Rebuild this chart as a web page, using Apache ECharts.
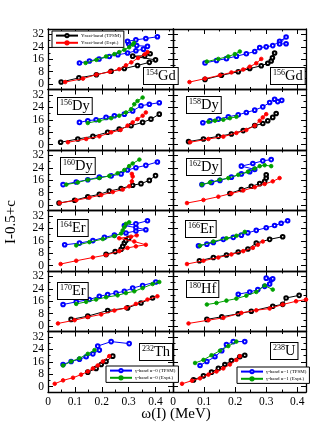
<!DOCTYPE html>
<html><head><meta charset="utf-8">
<script src="https://cdn.jsdelivr.net/npm/echarts@6/dist/echarts.min.js"></script>
<style>html,body{margin:0;padding:0;background:#fff}#c{width:311px;height:440px}</style>
</head><body><div id="c"></div>
<script>
const FONT = '"Liberation Serif","DejaVu Serif",serif';
// ---- data: [omega (MeV), I-0.5+c] ----
const gd154_yTh = [[0.049,1.3],[0.115,4],[0.18,6],[0.235,8.3],[0.284,10],[0.333,12],[0.377,14],[0.40,15.6],[0.315,18],[0.36,18.2],[0.38,19.5]];
const gd154_yEx = [[0.064,1.3],[0.13,3.5],[0.18,6.1],[0.23,7.9],[0.265,9.6],[0.29,12.1],[0.31,14],[0.335,16.8],[0.36,19.2],[0.37,20.6]];
const gd154_gTh = [[0.117,13.6],[0.154,14.9],[0.19,16.2],[0.228,17.8],[0.26,18.9],[0.296,20],[0.327,21.5],[0.355,22.5],[0.37,24.3],[0.33,24.8],[0.30,26],[0.296,27.6],[0.327,28.5],[0.364,29.4],[0.407,30.5]];
const gd154_gEx = [[0.14,13.6],[0.18,15.6],[0.216,17.8],[0.247,19.3],[0.265,20.6],[0.284,22.1],[0.302,23.7],[0.315,25.4],[0.32,26.5]];

const gd156_yTh = [[0.103,3],[0.156,5.7],[0.21,7.9],[0.247,10],[0.284,11.8],[0.305,13.4],[0.316,14.9],[0.32,17],[0.327,20]];
const gd156_yEx = [[0.053,1.3],[0.103,3.5],[0.151,5.7],[0.188,7.5],[0.226,9.4],[0.247,11.2],[0.268,13.4],[0.284,16.2]];
const gd156_gTh = [[0.103,13.6],[0.14,15.2],[0.172,16.4],[0.204,18],[0.236,19.5],[0.263,21],[0.279,23.5],[0.3,24],[0.321,24.8],[0.343,27.5],[0.364,30.3],[0.343,25.8],[0.364,26]];
const gd156_gEx = [[0.109,14.5],[0.146,16.2],[0.178,17.8],[0.199,19.3],[0.215,21]];

const dy156_yTh = [[0.047,1.5],[0.111,3.6],[0.167,5.3],[0.222,7.9],[0.265,10],[0.309,12.2],[0.352,14.3],[0.383,16.4],[0.414,19.6]];
const dy156_yEx = [[0.074,1.5],[0.142,3.6],[0.191,5.3],[0.235,7.9],[0.27,9.4],[0.296,12.2],[0.315,14.3],[0.333,16.4],[0.352,18.6],[0.364,20.7]];
const dy156_gTh = [[0.117,14.3],[0.148,15.4],[0.179,16],[0.216,17.5],[0.247,18.6],[0.284,19.6],[0.315,21.7],[0.346,25],[0.377,26],[0.414,27]];
const dy156_gEx = [[0.148,13.9],[0.191,15.4],[0.235,17],[0.265,18.6],[0.29,20.7],[0.309,22.8],[0.321,26],[0.333,28.1],[0.352,30.3]];

const dy158_yTh = [[0.05,1.9],[0.098,3.6],[0.146,5.3],[0.188,6.8],[0.226,9],[0.263,12.2],[0.289,13.6],[0.305,15.4],[0.321,17.5],[0.332,20]];
const dy158_yEx = [[0.055,1.5],[0.114,3.6],[0.162,5.1],[0.204,7.5],[0.236,9.4],[0.263,12.2],[0.279,15.4],[0.289,17.5],[0.3,19.6]];
const dy158_gTh = [[0.096,14.1],[0.119,15.4],[0.146,16.4],[0.178,17.9],[0.21,19.2],[0.236,20.7],[0.263,22.2],[0.289,24.3],[0.311,27.1],[0.327,29.2],[0.337,27.7],[0.35,28.5]];
const dy158_gEx = [[0.114,14.7],[0.135,15.4],[0.162,16],[0.183,17],[0.204,17.9]];

const dy160_yTh = [[0.041,1.3],[0.099,3.1],[0.148,5.4],[0.191,6.9],[0.228,9],[0.272,10.7],[0.315,12.8],[0.346,13.8],[0.377,15.9],[0.40,19]];
const dy160_yEx = [[0.043,1.3],[0.105,3.1],[0.154,4.8],[0.198,6.5],[0.241,8.4],[0.278,10],[0.302,12.1],[0.312,15.3],[0.315,18.4],[0.312,20.1]];
const dy160_gTh = [[0.056,13.2],[0.105,14.9],[0.148,16.3],[0.191,18],[0.235,18.8],[0.272,20.1],[0.296,22.6],[0.327,24.1],[0.364,25.6],[0.407,27.8]];
const dy160_gEx = [[0.068,13.2],[0.111,14.6],[0.148,16.3],[0.191,17.4],[0.228,18.8],[0.259,20.5],[0.284,22.6],[0.302,25.1],[0.315,26.8],[0.34,29.3]];

const dy162_yTh = [[0.183,7.5],[0.22,10],[0.252,12.1],[0.279,13.8],[0.295,15.3],[0.3,17.4],[0.3,19.5]];
const dy162_yEx = [[0.045,1.3],[0.098,3.3],[0.146,5.4],[0.188,7.5],[0.226,9.4],[0.263,11.5],[0.295,13.6],[0.321,15.3],[0.343,17.4]];
const dy162_gTh = [[0.093,13.2],[0.124,14.6],[0.151,15.9],[0.188,18],[0.22,20.1],[0.247,21.5],[0.263,23],[0.22,25.1],[0.257,26.8],[0.289,28.5],[0.316,29.3]];
const dy162_gEx = [[0.093,13.2],[0.119,14.6],[0.151,16.3],[0.178,17.4],[0.21,19.5],[0.241,21.5],[0.263,23.6],[0.279,25.1],[0.295,25.7],[0.316,25.1]];

const er164_yTh = [[0.216,7.2],[0.25,9],[0.272,10.5],[0.278,12.4],[0.284,14.5],[0.29,16.1],[0.3,17.5]];
const er164_yEx = [[0.047,1],[0.105,3.1],[0.167,5.2],[0.216,6.8],[0.265,9.3],[0.296,11.4],[0.327,12.4],[0.364,13.4],[0.321,15.5],[0.265,17.6],[0.309,18.6],[0.33,19.5]];
const er164_gTh = [[0.062,13.4],[0.117,14.5],[0.167,16.1],[0.21,18.2],[0.247,19.6],[0.29,21],[0.327,22.3],[0.364,23.1],[0.327,24.5],[0.284,25.8],[0.327,26.9],[0.37,28.9]];
const er164_gEx = [[0.105,13],[0.154,15.1],[0.204,17.1],[0.247,19],[0.272,20.7],[0.278,22.7],[0.284,24.8],[0.29,26.9],[0.302,27.9]];

const er166_yTh = [[0.085,3.1],[0.13,5.2],[0.172,6.8],[0.21,8.7],[0.241,10.7],[0.268,14.5],[0.311,16.9],[0.353,18.6]];
const er166_yEx = [[0.045,1],[0.098,3.1],[0.146,5.2],[0.188,7.2],[0.226,9.3],[0.257,11.4],[0.273,13.4],[0.289,15.5]];
const er166_gTh = [[0.082,12.8],[0.109,13.8],[0.13,14.9],[0.162,16.9],[0.194,18.2],[0.22,19.6],[0.241,21.1],[0.268,22.7],[0.3,24.4],[0.327,25.8],[0.348,27.3],[0.369,28.9]];
const er166_gEx = [[0.087,12.8],[0.13,15.5],[0.172,17.6],[0.204,19.2],[0.231,21.7]];

const er170_yTh = [[0.086,4.3],[0.148,6.4],[0.222,10],[0.296,11.7],[0.346,14.9],[0.389,18.1]];
const er170_yEx = [[0.037,1.7],[0.099,3.8],[0.148,5.8],[0.198,7.5],[0.247,10],[0.29,11.7],[0.327,14.3],[0.37,17.1],[0.407,19.2]];
const er170_gTh = [[0.056,13.9],[0.105,15.6],[0.154,17.1],[0.191,19.2],[0.222,20.3],[0.253,21.3],[0.284,22.4],[0.315,24.5],[0.352,26.2],[0.401,28.4]];
const er170_gEx = [[0.105,14.3],[0.142,15.6],[0.179,17.1],[0.216,18.6],[0.259,19.8],[0.29,21.3],[0.321,22.4],[0.352,24.5],[0.389,27.1],[0.414,28.4]];

const hf180_yTh = [[0.109,4.3],[0.157,6],[0.21,7.9],[0.252,9.6],[0.321,12.8],[0.353,14],[0.364,18.1],[0.406,19.8]];
const hf180_yEx = [[0.05,1.7],[0.114,3.8],[0.162,5.3],[0.22,8.5],[0.268,10.2],[0.311,11.3],[0.353,13.9],[0.396,16],[0.428,17.1]];
const hf180_gTh = [[0.21,20.5],[0.247,22],[0.273,23.5],[0.295,25.6],[0.311,27.1],[0.316,29.9],[0.3,30.9],[0.321,30.5]];
const hf180_gEx = [[0.109,13.9],[0.14,14.9],[0.172,16.4],[0.204,17.7],[0.236,19.6],[0.268,22],[0.295,26.2],[0.321,23.5]];

const th232_yTh = [[0.148,9.3],[0.179,11.7],[0.198,14.2],[0.216,16.2],[0.241,19.6]];
const th232_yEx = [[0.025,1.8],[0.056,4],[0.093,5.7],[0.123,7.7],[0.148,9.7],[0.167,11.7],[0.185,13.6],[0.204,16.2],[0.228,19.6]];
const th232_gTh = [[0.056,14.2],[0.086,16.2],[0.117,17.6],[0.142,19.2],[0.167,21.1],[0.191,23.5],[0.185,26.1],[0.235,29],[0.302,27.7]];
const th232_gEx = [[0.056,13.6],[0.086,16.2],[0.117,18.2],[0.148,21.1],[0.173,23.5]];

const u238_yTh = [[0.066,4.3],[0.098,6.9],[0.124,9.3],[0.146,11.7],[0.167,14.2],[0.188,16.8],[0.215,19.2],[0.231,20.2]];
const u238_yEx = [[0.029,1.8],[0.061,3.8],[0.087,5.3],[0.114,7.7],[0.14,9.7],[0.162,11.7],[0.183,14.2],[0.204,17.2],[0.215,19.6]];
const u238_gTh = [[0.087,13.6],[0.109,16.2],[0.135,19.2],[0.157,23.1],[0.172,27.1],[0.194,29],[0.231,29]];
const u238_gEx = [[0.071,15.2],[0.098,17.2],[0.124,20.2],[0.151,23.1],[0.178,26.1],[0.204,29]];

const xTickLabels = [0, 0.1, 0.2, 0.3, 0.4];
const yTickLabels = [0, 8, 16, 24, 32];
const xMinorVals = [0.05, 0.15, 0.25, 0.35, 0.45];
const yMinorVals = [4, 12, 20, 28];

const panels = [
  {mass:'154', el:'Gd', d:[gd154_yTh, gd154_yEx, gd154_gTh, gd154_gEx], lab:[143,67]},
  {mass:'156', el:'Gd', d:[gd156_yTh, gd156_yEx, gd156_gTh, gd156_gEx], lab:[270,67]},
  {mass:'156', el:'Dy', d:[dy156_yTh, dy156_yEx, dy156_gTh, dy156_gEx], lab:[57,97]},
  {mass:'158', el:'Dy', d:[dy158_yTh, dy158_yEx, dy158_gTh, dy158_gEx], lab:[186,96]},
  {mass:'160', el:'Dy', d:[dy160_yTh, dy160_yEx, dy160_gTh, dy160_gEx], lab:[60,157]},
  {mass:'162', el:'Dy', d:[dy162_yTh, dy162_yEx, dy162_gTh, dy162_gEx], lab:[186,158]},
  {mass:'164', el:'Er', d:[er164_yTh, er164_yEx, er164_gTh, er164_gEx], lab:[57,219]},
  {mass:'166', el:'Er', d:[er166_yTh, er166_yEx, er166_gTh, er166_gEx], lab:[185,220]},
  {mass:'170', el:'Er', d:[er170_yTh, er170_yEx, er170_gTh, er170_gEx], lab:[57,282]},
  {mass:'180', el:'Hf', d:[hf180_yTh, hf180_yEx, hf180_gTh, hf180_gEx], lab:[186,280]},
  {mass:'232', el:'Th', d:[th232_yTh, th232_yEx, th232_gTh, th232_gEx], lab:[139,343]},
  {mass:'238', el:'U',  d:[u238_yTh, u238_yEx, u238_gTh, u238_gEx], lab:[270,342]}
];

const TOP = 29, PH = 60.5, LEFT = 48, MID = 173, RIGHT = 306;
const YMIN = -3.5, YMAX = 35.5, XMAXL = 0.465, XMAXR = 0.428;

const grids = [], xAxes = [], yAxes = [], series = [], graphics = [];
const lineCol = '#000';
function xAxis(gi, pos, vals, len, line, labels, xmax) {
  return {type:'value', gridIndex:gi, position:pos, min:0, max:xmax,
    axisLine:{show:line, onZero:false, lineStyle:{color:lineCol, width:1.3}},
    axisTick:{show:true, inside:true, length:len, customValues:vals, lineStyle:{color:lineCol, width:1}},
    axisLabel:{show:labels, customValues:xTickLabels, fontFamily:FONT, fontSize:11.5, color:'#000', margin:4,
      formatter:v => String(v)},
    splitLine:{show:false}};
}
function yAxis(gi, pos, vals, len, line, labels) {
  return {type:'value', gridIndex:gi, position:pos, min:YMIN, max:YMAX,
    axisLine:{show:line, onZero:false, lineStyle:{color:lineCol, width:1.3}},
    axisTick:{show:true, inside:true, length:len, customValues:vals, lineStyle:{color:lineCol, width:1}},
    axisLabel:{show:labels, customValues:yTickLabels, fontFamily:FONT, fontSize:11.5, color:'#000', margin:4},
    splitLine:{show:false}};
}
const styles = [
  {name:'Yrast-band (TPSM)', color:'#000000', sym:'emptyCircle'},
  {name:'Yrast-band (Expt.)', color:'#ff0000', sym:'circle'},
  {name:'γ-band (TPSM)', color:'#0000ff', sym:'emptyCircle'},
  {name:'γ-band (Expt.)', color:'#00a000', sym:'circle'}
];
panels.forEach((p, i) => {
  const row = Math.floor(i / 2), col = i % 2;
  const x0 = col === 0 ? LEFT : MID, x1 = col === 0 ? MID : RIGHT;
  const xmax = col === 0 ? XMAXL : XMAXR;
  grids.push({left:x0, top:TOP + row * PH, width:x1 - x0, height:PH});
  const bottomRow = row === 5;
  const xi = xAxes.length, yi = yAxes.length;
  xAxes.push(xAxis(i, 'bottom', xTickLabels, 5, true, bottomRow, xmax));
  xAxes.push(xAxis(i, 'top', xTickLabels, 5, true, false, xmax));
  xAxes.push(xAxis(i, 'bottom', xMinorVals.filter(v => v < xmax), 2.5, false, false, xmax));
  xAxes.push(xAxis(i, 'top', xMinorVals.filter(v => v < xmax), 2.5, false, false, xmax));
  yAxes.push(yAxis(i, 'left', yTickLabels, 5, true, col === 0));
  yAxes.push(yAxis(i, 'right', yTickLabels, 5, true, false));
  yAxes.push(yAxis(i, 'left', yMinorVals, 2.5, false, false));
  yAxes.push(yAxis(i, 'right', yMinorVals, 2.5, false, false));
  p.d.forEach((arr, k) => {
    let nm = styles[k].name;
    if (k >= 2 && p.el === 'Th') nm = k === 2 ? 'γ-band α=0 (TPSM)' : 'γ-band α=0 (Expt.)';
    if (k >= 2 && p.el === 'U') nm = k === 2 ? 'γ-band α=1 (TPSM)' : 'γ-band α=1 (Expt.)';
    series.push({type:'line', name:nm, xAxisIndex:xi, yAxisIndex:yi, data:arr,
      symbol:styles[k].sym, symbolSize:3.6, showSymbol:true,
      lineStyle:{color:styles[k].color, width:1},
      itemStyle:{color:styles[k].color, borderColor:styles[k].color, borderWidth:0.9},
      z: 2 + k, animation:false});
  });
  graphics.push({type:'text', left:p.lab[0], top:p.lab[1], z:100,
    style:{text:'{a|' + p.mass + '}{b|' + p.el + '}',
      rich:{a:{fontFamily:FONT, fontSize:8, verticalAlign:'top', lineHeight:16, padding:[1,0,0,0]},
            b:{fontFamily:FONT, fontSize:14.5, lineHeight:16}},
      fill:'#000', backgroundColor:'#fff', borderColor:'#000', borderWidth:1, padding:[0,2,0,2]}});
});
graphics.push({type:'text', x:176, y:407, style:{text:'ω(I) (MeV)', fontFamily:FONT, fontSize:15, fill:'#000', align:'center', verticalAlign:'top'}});
graphics.push({type:'text', x:4, y:222, rotation:Math.PI/2, style:{text:'I-0.5+c', fontFamily:FONT, fontSize:15, fill:'#000', align:'center', verticalAlign:'top'}});

function legend(data, left, top) {
  return {data:data, left:left, top:top, orient:'vertical', itemWidth:22, itemHeight:4, itemGap:2,
    padding:[2,3,2,3], borderColor:'#000', borderWidth:1, backgroundColor:'#fff',
    textStyle:{fontFamily:FONT, fontSize:5, color:'#000', padding:[0,0,0,-2]}, selectedMode:false, z:50};
}
const chart = echarts.init(document.getElementById('c'), null, {renderer:'canvas'});
chart.setOption({
  animation:false, backgroundColor:'#fff',
  grid:grids, xAxis:xAxes, yAxis:yAxes, series:series, graphic:graphics,
  legend:[
    legend(['Yrast-band (TPSM)','Yrast-band (Expt.)'], 52, 31),
    legend(['γ-band α=0 (TPSM)','γ-band α=0 (Expt.)'], 106, 366),
    legend(['γ-band α=1 (TPSM)','γ-band α=1 (Expt.)'], 237, 367)
  ]
});
</script></body></html>
